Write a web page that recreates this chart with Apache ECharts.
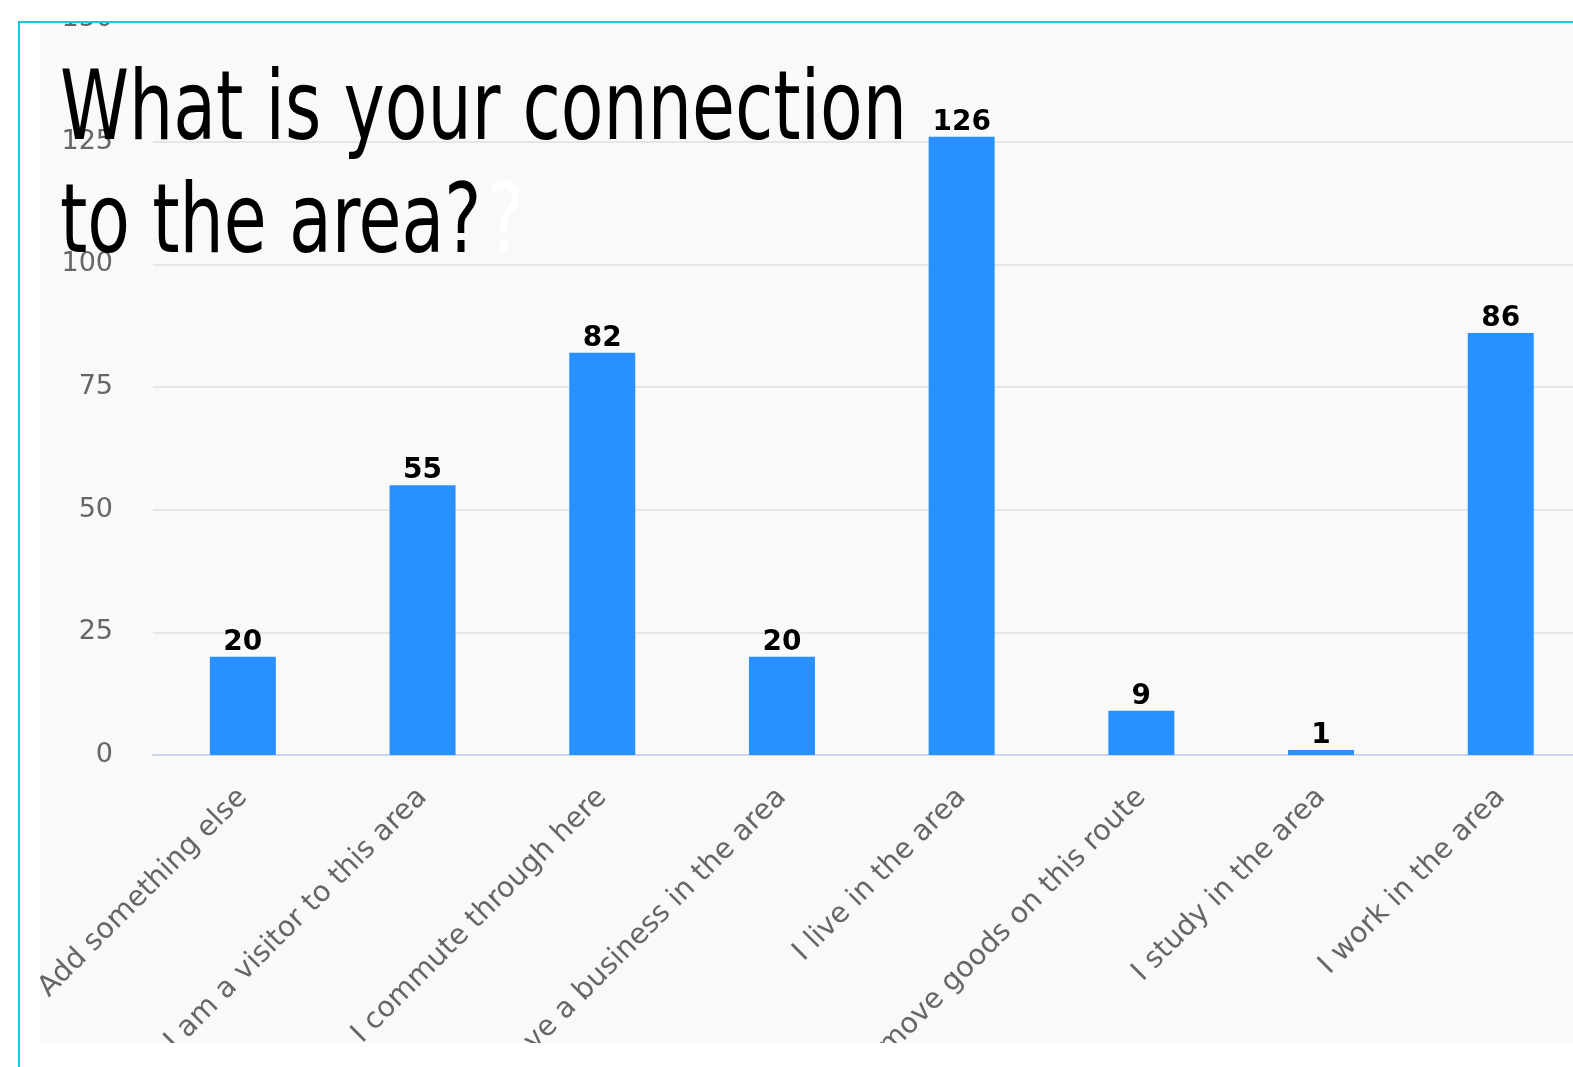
<!DOCTYPE html>
<html lang="en">
<head>
    <meta charset="UTF-8">
    <title>What is your connection to the area?</title>
    <script src="https://cdn.jsdelivr.net/npm/echarts@6/dist/echarts.min.js"></script>
    <style>
        html, body { margin: 0; padding: 0; background: #fff; width: 1573px; height: 1067px; overflow: hidden; }
        #frameLeft { position: absolute; left: 18px; top: 21px; width: 2px; height: 1046px; background: #1fc4e4; }
        #frameTop { position: absolute; left: 18px; top: 21px; width: 1555px; height: 2px; background: #1fc4e4; }
        #panel { position: absolute; left: 40px; top: 23px; width: 1533px; height: 1020px; background: #f9f9f9; overflow: hidden; }
        #chart { position: absolute; left: 0; top: -40px; width: 1620px; height: 1100px; }
    </style>
</head>
<body>
<div id="frameLeft"></div>
<div id="frameTop"></div>
<div id="panel">
    <div id="chart"></div>
</div>
<script type="text/javascript">
    var titleText = 'What is your connection\nto the area?';
    var categories = [
        'Add something else',
        'I am a visitor to this area',
        'I commute through here',
        'I have a business in the area',
        'I live in the area',
        'I move goods on this route',
        'I study in the area',
        'I work in the area'
    ];
    var counts = [20, 55, 82, 20, 126, 9, 1, 86];
    var yTicks = [0, 25, 50, 75, 100, 125, 150];

    var chart = echarts.init(document.getElementById('chart'));

    // the title is a condensed face, so squeeze the condensed DejaVu a bit more
    var titleFont = {
        fontFamily: 'DejaVu Sans Condensed',
        fontSize: 96,
        lineHeight: 113
    };

    var option = {
        animation: false,
        backgroundColor: 'transparent',
        graphic: [
            {
                type: 'text',
                x: 447,
                y: 188,
                scaleX: 0.808,
                z: 99,
                style: {
                    text: '?',
                    fill: '#ffffff',
                    fontFamily: titleFont.fontFamily,
                    fontSize: titleFont.fontSize,
                    lineHeight: titleFont.lineHeight
                }
            },
            {
                type: 'text',
                x: 20,
                y: 75,
                scaleX: 0.808,
                z: 100,
                style: {
                    text: titleText,
                    fill: '#000000',
                    fontFamily: titleFont.fontFamily,
                    fontSize: titleFont.fontSize,
                    lineHeight: titleFont.lineHeight
                }
            }
        ],
        grid: {
            left: 113,
            top: 36,
            width: 1437.6,
            height: 736,
            containLabel: false,
            outerBoundsMode: 'none'
        },
        xAxis: {
            type: 'category',
            data: categories,
            axisLine: { lineStyle: { color: '#ccd6eb', width: 2 } },
            axisTick: { show: false },
            axisLabel: {
                interval: 0,
                rotate: 45,
                margin: 38,
                color: '#666',
                fontSize: 28.5,
                fontFamily: 'DejaVu Sans'
            }
        },
        yAxis: {
            type: 'value',
            min: yTicks[0],
            max: yTicks[yTicks.length - 1],
            interval: 25,
            axisLine: { show: false },
            axisTick: { show: false },
            splitLine: { lineStyle: { color: '#e6e6e6', width: 2 } },
            axisLabel: {
                margin: 40,
                color: '#666',
                fontSize: 27,
                fontFamily: 'DejaVu Sans'
            }
        },
        series: [
            {
                type: 'bar',
                data: counts,
                barWidth: 66,
                itemStyle: { color: '#2891ff' },
                label: {
                    show: true,
                    position: 'top',
                    distance: 0,
                    color: '#000',
                    fontWeight: 'bold',
                    fontSize: 28,
                    fontFamily: 'DejaVu Sans',
                    textBorderColor: '#fff',
                    textBorderWidth: 1
                }
            }
        ]
    };

    chart.setOption(option);
</script>
</body>
</html>
